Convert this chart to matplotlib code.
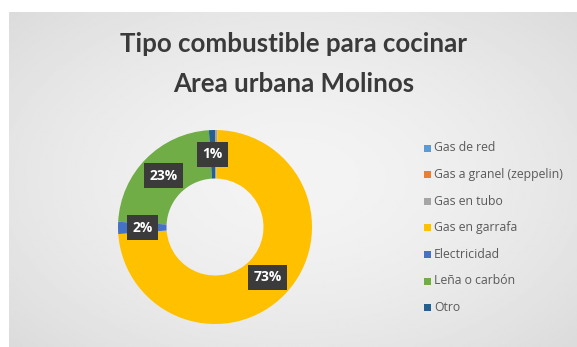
import matplotlib
matplotlib.use("Agg")
import matplotlib.pyplot as plt
import numpy as np

categories = ["Gas de red", "Gas a granel (zeppelin)", "Gas en tubo", "Gas en garrafa",
              "Electricidad", "Leña o carbón", "Otro"]
values = [0.0, 0.0, 0.4, 73.0, 2.0, 23.0, 1.0]
labels = ["", "", "", "73%", "2%", "23%", "1%"]
colors = ["#5b9bd5", "#ed7d31", "#a5a5a5", "#ffc000", "#4472c4", "#70ad47", "#255e91"]

W, H = 577, 347
fig = plt.figure(figsize=(W / 100, H / 100), dpi=100)
fig.patch.set_facecolor("white")

# gray photographed background with soft gradient
bg = fig.add_axes([9 / W, 0, 1 - 9 / W, 1 - 12 / H])
yy, xx = np.mgrid[0:1:200j, 0:1:300j]
r = np.sqrt(((xx - 0.5) / 0.75) ** 2 + ((yy - 0.5) / 0.8) ** 2)
shade = 0.955 - 0.11 * r ** 1.6
bg.imshow(shade, cmap="gray", vmin=0, vmax=1, aspect="auto", extent=[0, 1, 0, 1],
          interpolation="bilinear")
bg.set_axis_off()

# title
fig.text(294 / W, 1 - 52 / H, "Tipo combustible para cocinar", ha="center", va="baseline",
         fontsize=18.6, fontweight="bold", color="#3a3a3a", family="Lato")
fig.text(294 / W, 1 - 92 / H, "Area urbana Molinos", ha="center", va="baseline",
         fontsize=18.6, fontweight="bold", color="#3a3a3a", family="Lato")

# donut
cx, cy, R = 215, 227, 97
ax = fig.add_axes([(cx - R) / W, 1 - (cy + R) / H, 2 * R / W, 2 * R / H])
ax.set_axis_off()
wedges, _ = ax.pie(values, colors=colors, startangle=90, counterclock=False,
                   wedgeprops=dict(width=0.5, edgecolor="none"))
ax.set_xlim(-1, 1)
ax.set_ylim(-1, 1)
ax.set_aspect("equal")
total = sum(values)
cum = 0.0
for v, lab in zip(values, labels):
    mid = cum + v / 2
    cum += v
    if not lab:
        continue
    ang = np.deg2rad(90 - 360 * mid / total)
    ax.text(0.75 * np.cos(ang), 0.75 * np.sin(ang), lab, ha="center", va="center",
            fontsize=10, fontweight="bold", color="white", family="Open Sans",
            bbox=dict(boxstyle="square,pad=0.4", facecolor="#3b3b3b", edgecolor="none"))

# legend
ly0, dy = 148, 26.6
for i, name in enumerate(categories):
    y = ly0 + i * dy
    fig.patches.append(plt.Rectangle((424 / W, 1 - (y + 3.5) / H), 7 / W, 7 / H,
                                     transform=fig.transFigure, facecolor=colors[i],
                                     edgecolor="none"))
    fig.text(434 / W, 1 - y / H, name, ha="left", va="center", fontsize=8.8,
             color="#5a5a5a", family="Open Sans")

fig.savefig("out.png", dpi=100)
